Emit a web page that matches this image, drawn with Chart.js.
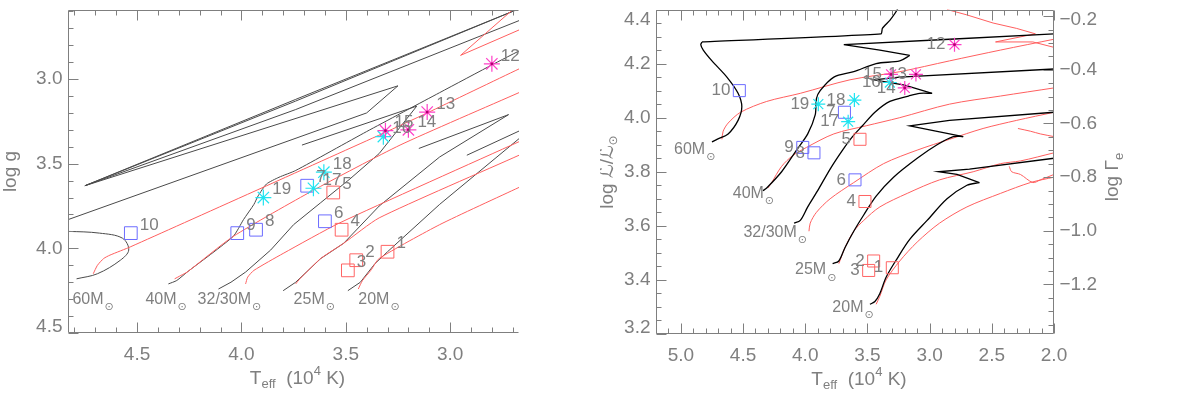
<!DOCTYPE html>
<html>
<head>
<meta charset="utf-8">
<script src="https://cdn.jsdelivr.net/npm/chart.js@4.4.1/dist/chart.umd.min.js"></script>
<style>
  html, body { margin: 0; padding: 0; background: #fff; }
  #wrap { position: relative; width: 1200px; height: 393px; overflow: hidden; }
  .panel { position: absolute; top: 0; width: 600px; height: 393px; }
</style>
</head>
<body>
<div id="wrap">
  <div class="panel" style="left:0"><canvas id="left"></canvas></div>
  <div class="panel" style="left:600px"><canvas id="right"></canvas></div>
</div>
<script>
// ---- observed stars (Teff in 10^4 K, log g, log L/Lsun) ----
const blueIds  = ['6', '7', '8', '9', '10'];
const blueTeff = [3.60, 3.685, 3.93, 4.02, 4.53];
const blueLogg = [3.84, 3.63, 3.89, 3.91, 3.91];
const blueLogL = [3.77, 4.02, 3.87, 3.89, 4.10];

const redIds  = ['1', '2', '3', '4', '5'];
const redTeff = [3.30, 3.45, 3.49, 3.52, 3.56];
const redLogg = [4.02, 4.07, 4.13, 3.89, 3.67];
const redLogL = [3.445, 3.47, 3.435, 3.69, 3.92];

const cyanIds  = ['16', '17', '18', '19'];
const cyanTeff = [3.32, 3.655, 3.605, 3.895];
const cyanLogg = [3.34, 3.645, 3.55, 3.70];
const cyanLogL = [4.13, 3.985, 4.065, 4.05];

const magIds  = ['12', '13', '14', '15'];
const magTeff = [2.80, 3.11, 3.20, 3.31];
const magLogg = [2.91, 3.195, 3.30, 3.305];
const magLogL = [4.27, 4.16, 4.11, 4.16];

const massNames = ['60', '40', '32/30', '25', '20'];

// ---- evolutionary tracks, left panel: [Teff, log g] ----
const gBlack60a = [[4.79,4.18],[4.69,4.15],[4.58,4.07],[4.54,4.01],[4.57,3.94],[4.68,3.91],[4.83,3.90],[4.97,3.90]];
const gBlack60b = [[4.97,3.89],[4.83,3.83],[3.40,3.20],[3.25,3.04],[4.75,3.63],[3.74,3.12],[2.70,2.60],[2.47,2.48]];
const gBlack60c = [[4.75,3.63],[3.74,3.13],[2.70,2.60],[2.49,2.49]];
const gBlack60d = [[4.75,3.63],[3.74,3.18],[2.64,2.64]];
const gBlack40 = [[4.35,4.21],[4.31,4.19],[4.26,4.14],[4.04,3.93],[3.99,3.83],[3.94,3.74],[3.92,3.69],[3.88,3.62],[3.82,3.58],[3.74,3.54],[3.40,3.31],[3.05,3.08],[2.79,2.91],[2.60,2.79]];
const gBlack32 = [[4.11,4.24],[4.05,4.20],[3.98,4.14],[3.86,4.01],[3.75,3.86],[3.62,3.73],[3.48,3.59],[3.34,3.44],[3.16,3.16],[3.71,3.39]];
const gBlack25 = [[3.80,4.25],[3.74,4.20],[3.62,4.06],[3.51,3.97],[3.34,3.75],[3.05,3.46],[2.72,3.21],[3.15,3.41]];
const gBlack20 = [[3.49,4.25],[3.43,4.20],[3.36,4.09],[3.30,4.02],[3.05,3.74],[2.57,3.25],[2.92,3.45]];
const gRed60 = [[4.71,4.15],[4.69,4.10],[4.66,4.06],[4.63,4.04],[4.53,3.99],[3.32,3.32],[3.11,3.20],[2.67,2.94],[2.60,2.90]];
const gRed40 = [[4.32,4.18],[4.29,4.16],[4.26,4.14],[4.04,3.93],[3.66,3.66],[3.24,3.39],[2.67,3.08],[2.60,3.04]];
const gRed32 = [[3.98,4.21],[3.97,4.17],[3.94,4.13],[3.80,4.03],[3.53,3.85],[2.67,3.37],[2.60,3.33]];
const gRed25 = [[3.74,4.21],[3.72,4.18],[3.62,4.06],[3.51,3.97],[3.34,3.82],[2.67,3.45],[2.60,3.41]];
const gRed20 = [[3.44,4.24],[3.42,4.19],[3.38,4.13],[3.34,4.06],[3.05,3.86],[2.67,3.64],[2.60,3.60]];
const gRedZig = [[2.64,2.54],[2.70,2.59],[2.95,2.86],[2.67,2.71],[2.60,2.67]];

// ---- evolutionary tracks, right panel: [Teff, log L/Lsun] ----
// main-sequence rise (smooth) and the hook/tail after it
const lBlack60 = [[4.75,3.91],[4.71,3.92],[4.62,3.94],[4.54,3.99],[4.51,4.04],[4.54,4.09],[4.63,4.15],[4.75,4.21],[4.82,4.25],[4.84,4.27],[4.83,4.28]];
const lBlack60z = [[4.83,4.28],[3.39,4.31],[3.38,4.33],[3.32,4.36],[3.26,4.40],[3.22,4.45]];
const lBlack40 = [[4.34,3.73],[4.31,3.74],[4.19,3.80],[4.07,3.88],[3.98,3.94],[3.92,4.01],[3.91,4.07],[3.88,4.10],[3.77,4.15],[3.61,4.17],[3.43,4.20],[3.24,4.21],[3.16,4.23]];
const lBlack40z = [[3.16,4.23],[3.40,4.25],[3.69,4.27],[2.84,4.29],[2.00,4.31]];
const lBlack32 = [[4.09,3.61],[4.04,3.62],[3.98,3.67],[3.90,3.73],[3.80,3.81],[3.70,3.88],[3.62,3.93],[3.54,3.97],[3.44,4.02],[3.32,4.06],[3.17,4.08],[3.08,4.09],[2.98,4.09]];
const lBlack32z = [[2.98,4.09],[3.20,4.12],[3.45,4.14],[3.24,4.15],[2.00,4.18]];
const lBlack25 = [[3.78,3.46],[3.73,3.47],[3.68,3.52],[3.61,3.58],[3.53,3.64],[3.43,3.71],[3.29,3.78],[3.10,3.85],[2.94,3.90],[2.81,3.93],[2.73,3.93]];
const lBlack25z = [[2.73,3.93],[2.95,3.95],[3.16,3.97],[2.84,3.99],[2.00,4.02]];
const lBlack20 = [[3.48,3.31],[3.44,3.32],[3.40,3.35],[3.35,3.41],[3.26,3.48],[3.16,3.55],[3.02,3.62],[2.86,3.70],[2.70,3.75],[2.60,3.76]];
const lBlack20z = [[2.60,3.76],[2.78,3.79],[2.93,3.80],[2.68,3.81],[2.00,3.85]];
const lRed60 = [[4.67,3.92],[4.66,3.95],[4.62,3.98],[4.52,4.02],[4.31,4.06],[4.04,4.09],[3.64,4.14],[3.24,4.17],[2.84,4.21],[2.43,4.25],[2.00,4.29]];
const lRed40 = [[4.30,3.74],[4.27,3.76],[4.19,3.82],[4.10,3.86],[3.99,3.89],[3.77,3.94],[3.51,3.97],[3.24,4.00],[2.84,4.05],[2.43,4.08],[2.00,4.11]];
const lRed32 = [[3.97,3.58],[3.96,3.61],[3.91,3.65],[3.80,3.70],[3.61,3.76],[3.37,3.83],[3.10,3.88],[2.84,3.92],[2.57,3.96],[2.30,3.99],[2.00,4.02]];
const lRed25 = [[3.73,3.46],[3.68,3.52],[3.61,3.58],[3.53,3.62],[3.40,3.67],[3.18,3.72],[2.92,3.77],[2.65,3.80],[2.43,3.83],[2.27,3.84],[2.00,3.87]];
const lRed20 = [[3.43,3.31],[3.40,3.34],[3.35,3.40],[3.24,3.47],[3.10,3.54],[2.92,3.61],[2.70,3.67],[2.43,3.72],[2.19,3.76],[2.00,3.78]];
const lRedWig1 = [[2.29,3.96],[2.19,3.95],[2.11,3.94],[2.00,3.93]];
const lRedWig2 = [[2.36,3.82],[2.34,3.80],[2.27,3.79],[2.17,3.76],[2.11,3.77],[2.00,3.79]];
const lRedTop = [[2.86,4.40],[2.70,4.38],[2.49,4.35],[2.30,4.33],[2.15,4.31],[2.47,4.28],[2.17,4.28],[2.00,4.26]];

// ---- styling ----
const GREY = '#7f7f7f';
const FONT = '"Liberation Sans", "DejaVu Sans", sans-serif';
const RED_LINE = 'rgb(255,95,95)';

const P = arr => arr.map(([x, y]) => ({ x, y }));
const zipXY = (xs, ys) => xs.map((x, i) => ({ x, y: ys[i] }));

function track(arr, color, width, tension) {
  return { data: P(arr), showLine: true, borderColor: color, borderWidth: width,
           pointRadius: 0, fill: false, tension: tension || 0 };
}
function markers(xs, ys, style, color, r, bw) {
  return { data: zipXY(xs, ys), showLine: false, pointStyle: style, pointRadius: r,
           borderColor: color, backgroundColor: 'rgba(0,0,0,0)', pointBorderWidth: bw };
}
function dots(xs, ys, color) {
  return { data: zipXY(xs, ys), showLine: false, pointStyle: 'circle', pointRadius: 1.4,
           borderColor: color, backgroundColor: color, pointBorderWidth: 0 };
}

function ticksFor(min, max, step) {
  const out = [];
  const s = Math.ceil(min / step - 1e-6), e = Math.floor(max / step + 1e-6);
  for (let i = s; i <= e; i++) out.push(+(i * step).toFixed(4));
  return out;
}
const isMajor = (v, step) => Math.abs(v / step - Math.round(v / step)) < 1e-6;
const fmt = v => (v < 0 ? '\u2212' : '') + Math.abs(v).toFixed(1);

// draws pieces like [['T',19,0],['eff',13,6]] in sequence, centred on 0
function drawRich(ctx, parts) {
  let w = 0;
  parts.forEach(p => { ctx.font = p[1] + 'px ' + FONT; w += ctx.measureText(p[0]).width; });
  let x = -w / 2;
  parts.forEach(p => {
    ctx.font = p[1] + 'px ' + FONT;
    ctx.fillText(p[0], x, p[2]);
    x += ctx.measureText(p[0]).width;
  });
}

const framePlugin = {
  id: 'frame',
  afterDatasetsDraw(chart, args, o) {
    const { ctx, chartArea: a } = chart;
    const xs = chart.scales.x, ys = chart.scales.y;
    const L = Math.round(a.left) + 0.5, R = Math.round(a.right) - 0.5;
    const T = Math.round(a.top) + 0.5, B = Math.round(a.bottom) - 0.5;
    ctx.save();
    ctx.strokeStyle = GREY;
    ctx.lineWidth = 1;
    ctx.beginPath();
    ctx.moveTo(R, T); ctx.lineTo(L, T); ctx.lineTo(L, B); ctx.lineTo(R, B);
    if (o.y2) { ctx.moveTo(R, T); ctx.lineTo(R, B); }
    ticksFor(xs.min, xs.max, o.xMinor).forEach(v => {
      const p = Math.round(xs.getPixelForValue(v)) + 0.5;
      const len = isMajor(v, o.xMajor) ? 10 : 5;
      ctx.moveTo(p, B); ctx.lineTo(p, B - len);
      ctx.moveTo(p, T); ctx.lineTo(p, T + len);
    });
    ticksFor(ys.min, ys.max, o.yMinor).forEach(v => {
      const p = Math.round(ys.getPixelForValue(v)) + 0.5;
      const len = isMajor(v, o.yMajor) ? 10 : 5;
      ctx.moveTo(L, p); ctx.lineTo(L + len, p);
    });
    if (o.y2) {
      const s2 = chart.scales.y2;
      ticksFor(s2.min, s2.max, o.y2Minor).forEach(v => {
        const p = Math.round(s2.getPixelForValue(v)) + 0.5;
        const len = isMajor(v, o.y2Major) ? 10 : 5;
        ctx.moveTo(R, p); ctx.lineTo(R - len, p);
      });
    }
    ctx.stroke();

    // tick labels
    ctx.fillStyle = GREY;
    ctx.font = '19px ' + FONT;
    ctx.textBaseline = 'middle';
    ctx.textAlign = 'center';
    ticksFor(xs.min, xs.max, o.xMajor).forEach(v => ctx.fillText(fmt(v), xs.getPixelForValue(v), B + 22));
    const clampY = p => Math.min(Math.max(p, T + 9), B - 6);
    ctx.textAlign = 'right';
    ticksFor(ys.min, ys.max, o.yMajor).forEach(v => ctx.fillText(fmt(v), L - 6, clampY(ys.getPixelForValue(v))));
    if (o.y2) {
      const s2 = chart.scales.y2;
      ctx.textAlign = 'left';
      ticksFor(s2.min, s2.max, o.y2Major).forEach(v => ctx.fillText(fmt(v), R + 6, clampY(s2.getPixelForValue(v))));
    }

    // axis titles
    ctx.textAlign = 'left';
    ctx.textBaseline = 'middle';
    ctx.save();
    ctx.translate((L + R) / 2 + 4, B + 46);
    drawRich(ctx, [['T', 19, 0], ['eff', 13, 6], ['  (10', 19, 0], ['4', 13, -7], [' K)', 19, 0]]);
    ctx.restore();
    ctx.save();
    ctx.translate(o.yTitleX, (T + B) / 2);
    ctx.rotate(-Math.PI / 2);
    drawRich(ctx, o.yTitle);
    ctx.restore();
    if (o.y2) {
      ctx.save();
      ctx.translate(o.y2TitleX, (T + B) / 2 + 5);
      ctx.rotate(-Math.PI / 2);
      drawRich(ctx, o.y2Title);
      ctx.restore();
    }

    // star numbers
    ctx.font = '17px ' + FONT;
    ctx.textAlign = o.labelAlign;
    ctx.textBaseline = 'middle';
    o.labels.forEach(g => {
      g.ids.forEach((id, i) => {
        const px = xs.getPixelForValue(g.xs[i]) + o.labelDx;
        const py = ys.getPixelForValue(g.ys[i]) + o.labelDy;
        ctx.fillText(id, px, py);
      });
    });

    // mass labels with subscript sun symbol
    ctx.textAlign = 'left';
    massNames.forEach((name, i) => {
      const [mx, my] = o.massAt[i];
      const px = xs.getPixelForValue(mx), py = ys.getPixelForValue(my);
      ctx.font = '16px ' + FONT;
      const txt = name + 'M';
      ctx.fillText(txt, px, py);
      const w = ctx.measureText(txt).width;
      ctx.font = '11px "DejaVu Sans", sans-serif';
      ctx.fillText('\u2299', px + w + 1, py + 8);
    });
    ctx.restore();
  }
};

function baseOptions(padding, frame, scales) {
  return {
    responsive: true, maintainAspectRatio: false, animation: false, devicePixelRatio: 1,
    layout: { padding },
    plugins: { legend: { display: false }, tooltip: { enabled: false }, frame },
    scales
  };
}

// ---- left panel: log g vs Teff ----
const GRAY_TRACK = '#4a4a4a';
const leftSets = [
  dots(magTeff, magLogg, '#b0006e'),
  markers(magTeff, magLogg, 'star', '#ff40c8', 8, 1.2),
  markers(cyanTeff, cyanLogg, 'star', '#20e4f0', 8, 1.2),
  markers(blueTeff, blueLogg, 'rect', '#6c6cff', 9, 1),
  markers(redTeff, redLogg, 'rect', '#ff6464', 9, 1),
  track(gRed60, RED_LINE, 1, 0.2), track(gRed40, RED_LINE, 1, 0.2), track(gRed32, RED_LINE, 1, 0.2),
  track(gRed25, RED_LINE, 1, 0.2), track(gRed20, RED_LINE, 1, 0.2), track(gRedZig, RED_LINE, 1),
  track(gBlack60a, GRAY_TRACK, 1, 0.35), track(gBlack60b, GRAY_TRACK, 1), track(gBlack60c, GRAY_TRACK, 1),
  track(gBlack60d, GRAY_TRACK, 1), track(gBlack40, GRAY_TRACK, 1, 0.2), track(gBlack32, GRAY_TRACK, 1),
  track(gBlack25, GRAY_TRACK, 1), track(gBlack20, GRAY_TRACK, 1)
];

new Chart(document.getElementById('left'), {
  type: 'scatter',
  data: { datasets: leftSets },
  options: baseOptions(
    { left: 68, right: 81, top: 1, bottom: 60 },
    {
      xMajor: 0.5, xMinor: 0.1, yMajor: 0.5, yMinor: 0.1,
      yTitleX: 11, yTitle: [['log g', 19, 0]],
      labelAlign: 'left', labelDx: 9, labelDy: -8,
      labels: [
        { ids: blueIds, xs: blueTeff, ys: blueLogg },
        { ids: redIds, xs: redTeff, ys: redLogg },
        { ids: cyanIds, xs: cyanTeff, ys: cyanLogg },
        { ids: magIds, xs: magTeff, ys: magLogg }
      ],
      massAt: [[4.81, 4.30], [4.46, 4.30], [4.21, 4.30], [3.75, 4.30], [3.44, 4.30]]
    },
    {
      x: { type: 'linear', display: false, min: 2.670, max: 4.831, reverse: true },
      y: { type: 'linear', display: false, min: 2.592, max: 4.5, reverse: true }
    }
  ),
  plugins: [framePlugin]
});

// ---- right panel: log L/Lsun vs Teff ----
const BLK = '#000';
const rightSets = [
  dots(magTeff, magLogL, '#b0006e'),
  markers(magTeff, magLogL, 'star', '#ff40c8', 7, 1.2),
  markers(cyanTeff, cyanLogL, 'star', '#20e4f0', 7, 1.2),
  markers(blueTeff, blueLogL, 'rect', '#6c6cff', 8.5, 1),
  markers(redTeff, redLogL, 'rect', '#ff6464', 8.5, 1),
  track(lBlack60, BLK, 1.3, 0.3), track(lBlack60z, BLK, 1.3, 0.15),
  track(lBlack40, BLK, 1.3, 0.3), track(lBlack40z, BLK, 1.3),
  track(lBlack32, BLK, 1.3, 0.3), track(lBlack32z, BLK, 1.3),
  track(lBlack25, BLK, 1.3, 0.3), track(lBlack25z, BLK, 1.3),
  track(lBlack20, BLK, 1.3, 0.3), track(lBlack20z, BLK, 1.3),
  track(lRed60, RED_LINE, 1, 0.3), track(lRed40, RED_LINE, 1, 0.3), track(lRed32, RED_LINE, 1, 0.3),
  track(lRed25, RED_LINE, 1, 0.3), track(lRed20, RED_LINE, 1, 0.3), track(lRedWig1, RED_LINE, 1, 0.3),
  track(lRedWig2, RED_LINE, 1, 0.3), track(lRedTop, RED_LINE, 1)
];

new Chart(document.getElementById('right'), {
  type: 'scatter',
  data: { datasets: rightSets },
  options: baseOptions(
    { left: 56, right: 146, top: 1, bottom: 59 },
    {
      xMajor: 0.5, xMinor: 0.1, yMajor: 0.2, yMinor: 0.05,
      y2: true, y2Major: 0.2, y2Minor: 0.05,
      yTitleX: 8, yTitle: [['log \u2112/\u2112', 19, 0], ['\u2299', 12, 6]],
      y2TitleX: 513, y2Title: [['log \u0393', 19, 0], ['e', 13, 6]],
      labelAlign: 'right', labelDx: -9, labelDy: 0,
      labels: [
        { ids: blueIds, xs: blueTeff, ys: blueLogL },
        { ids: redIds, xs: redTeff, ys: redLogL },
        { ids: cyanIds, xs: cyanTeff, ys: cyanLogL },
        { ids: magIds, xs: magTeff, ys: magLogL }
      ],
      massAt: [[5.055, 3.882], [4.583, 3.720], [4.497, 3.576], [4.082, 3.437], [3.782, 3.299]]
    },
    {
      x: { type: 'linear', display: false, min: 2.0, max: 5.2, reverse: true },
      y: { type: 'linear', display: false, min: 3.2, max: 4.4 },
      y2: { type: 'linear', display: false, position: 'right', min: -1.385, max: -0.175 }
    }
  ),
  plugins: [framePlugin]
});
</script>
</body>
</html>
